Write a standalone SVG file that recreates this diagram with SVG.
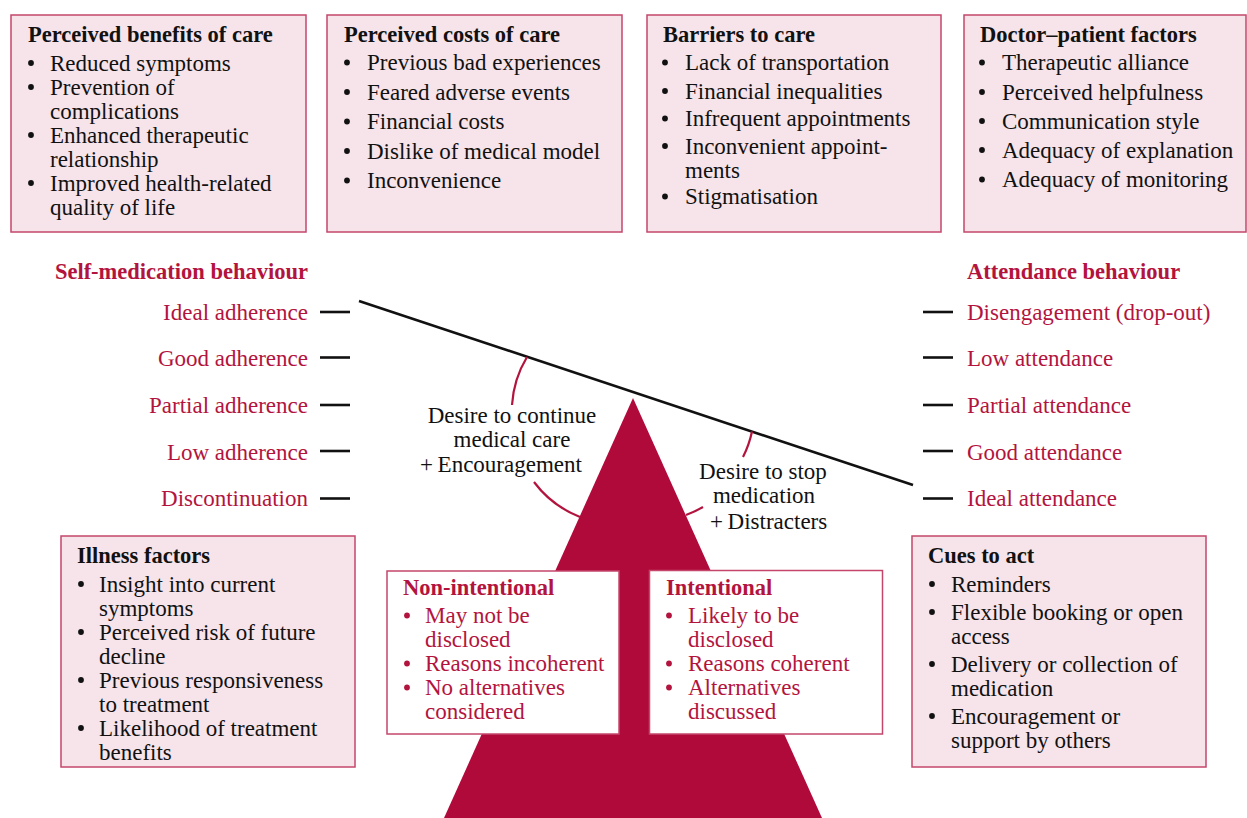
<svg xmlns="http://www.w3.org/2000/svg" width="1247" height="818" viewBox="0 0 1247 818">
<style>
.box{fill:#f6e4ea;stroke:#c4476b;stroke-width:1.5}
.wbox{fill:#ffffff;stroke:#c4476b;stroke-width:1.5}
.t{font-family:"Liberation Serif","Times New Roman",serif;font-size:23px;fill:#111}
.h{font-family:"Liberation Serif","Times New Roman",serif;font-size:22.5px;font-weight:bold;fill:#111}
.r{fill:#b3143e}
.b{fill:#111}
.rb{fill:#b3143e}
.tick{stroke:#111;stroke-width:2.6}
.arc{fill:none;stroke:#b3143e;stroke-width:2.2}
</style>
<rect width="1247" height="818" fill="#ffffff"/>
<g id="fulcrum">
<polygon points="633,398 444,818 822,818" fill="#b00a3a"/>
</g>
<g id="connectors">
<line x1="359" y1="301" x2="913" y2="485" stroke="#111" stroke-width="2.6"/>
<line class="tick" x1="320" y1="312" x2="350" y2="312"/>
<line class="tick" x1="320" y1="357.5" x2="350" y2="357.5"/>
<line class="tick" x1="320" y1="405" x2="350" y2="405"/>
<line class="tick" x1="320" y1="451" x2="350" y2="451"/>
<line class="tick" x1="320" y1="498.5" x2="350" y2="498.5"/>
<line class="tick" x1="923" y1="312" x2="953" y2="312"/>
<line class="tick" x1="923" y1="357.5" x2="953" y2="357.5"/>
<line class="tick" x1="923" y1="405" x2="953" y2="405"/>
<line class="tick" x1="923" y1="451" x2="953" y2="451"/>
<line class="tick" x1="923" y1="498.5" x2="953" y2="498.5"/>
<path class="arc" d="M527,357 A105.5,105.5 0 0 0 512,405"/>
<path class="arc" d="M534,482 A105.5,105.5 0 0 0 580,517"/>
<path class="arc" d="M752,431.5 A103,103 0 0 1 743,457"/>
<path class="arc" d="M703,507 A103,103 0 0 1 686,515"/>
</g>
<g id="benefits">
<rect class="box" x="11" y="15" width="295" height="217"/>
<text class="h" x="28" y="42">Perceived benefits of care</text>
<circle class="b" cx="31" cy="63" r="2.9"/><text class="t" x="50" y="70.5">Reduced symptoms</text>
<circle class="b" cx="31" cy="87" r="2.9"/><text class="t" x="50" y="94.5">Prevention of</text>
<text class="t" x="50" y="118.5">complications</text>
<circle class="b" cx="31" cy="135" r="2.9"/><text class="t" x="50" y="142.5">Enhanced therapeutic</text>
<text class="t" x="50" y="166.5">relationship</text>
<circle class="b" cx="31" cy="183" r="2.9"/><text class="t" x="50" y="190.5">Improved health-related</text>
<text class="t" x="50" y="214.5">quality of life</text>
</g>
<g id="costs">
<rect class="box" x="327" y="15" width="295" height="217"/>
<text class="h" x="344" y="42">Perceived costs of care</text>
<circle class="b" cx="347" cy="62.5" r="2.9"/><text class="t" x="367" y="70">Previous bad experiences</text>
<circle class="b" cx="347" cy="92" r="2.9"/><text class="t" x="367" y="99.5">Feared adverse events</text>
<circle class="b" cx="347" cy="121.5" r="2.9"/><text class="t" x="367" y="129">Financial costs</text>
<circle class="b" cx="347" cy="151" r="2.9"/><text class="t" x="367" y="158.5">Dislike of medical model</text>
<circle class="b" cx="347" cy="180.5" r="2.9"/><text class="t" x="367" y="188">Inconvenience</text>
</g>
<g id="barriers">
<rect class="box" x="647" y="15" width="294" height="217"/>
<text class="h" x="663" y="42">Barriers to care</text>
<circle class="b" cx="665" cy="62.5" r="2.9"/><text class="t" x="685" y="70">Lack of transportation</text>
<circle class="b" cx="665" cy="91" r="2.9"/><text class="t" x="685" y="98.5">Financial inequalities</text>
<circle class="b" cx="665" cy="118.5" r="2.9"/><text class="t" x="685" y="126">Infrequent appointments</text>
<circle class="b" cx="665" cy="146" r="2.9"/><text class="t" x="685" y="153.5">Inconvenient appoint-</text>
<text class="t" x="685" y="177.5">ments</text>
<circle class="b" cx="665" cy="196.5" r="2.9"/><text class="t" x="685" y="204">Stigmatisation</text>
</g>
<g id="doctor-patient">
<rect class="box" x="964" y="15" width="282" height="217"/>
<text class="h" x="980" y="42">Doctor–patient factors</text>
<circle class="b" cx="982" cy="62.5" r="2.9"/><text class="t" x="1002" y="70">Therapeutic alliance</text>
<circle class="b" cx="982" cy="92" r="2.9"/><text class="t" x="1002" y="99.5">Perceived helpfulness</text>
<circle class="b" cx="982" cy="121" r="2.9"/><text class="t" x="1002" y="128.5">Communication style</text>
<circle class="b" cx="982" cy="150" r="2.9"/><text class="t" x="1002" y="157.5">Adequacy of explanation</text>
<circle class="b" cx="982" cy="179.5" r="2.9"/><text class="t" x="1002" y="187">Adequacy of monitoring</text>
</g>
<g id="self-medication">
<text class="h r" x="308" y="279" text-anchor="end">Self-medication behaviour</text>
<text class="t r" x="308" y="320" text-anchor="end">Ideal adherence</text>
<text class="t r" x="308" y="366" text-anchor="end">Good adherence</text>
<text class="t r" x="308" y="413" text-anchor="end">Partial adherence</text>
<text class="t r" x="308" y="459.5" text-anchor="end">Low adherence</text>
<text class="t r" x="308" y="506" text-anchor="end">Discontinuation</text>
</g>
<g id="attendance">
<text class="h r" x="967" y="279">Attendance behaviour</text>
<text class="t r" x="967" y="320">Disengagement (drop-out)</text>
<text class="t r" x="967" y="366">Low attendance</text>
<text class="t r" x="967" y="413">Partial attendance</text>
<text class="t r" x="967" y="459.5">Good attendance</text>
<text class="t r" x="967" y="506">Ideal attendance</text>
</g>
<g id="desire-continue">
<text class="t" x="512" y="422.5" text-anchor="middle">Desire to continue</text>
<text class="t" x="512" y="446.5" text-anchor="middle">medical care</text>
<text class="t" x="420" y="471.5">+&#8201;Encouragement</text>
</g>
<g id="desire-stop">
<text class="t" x="763" y="479" text-anchor="middle">Desire to stop</text>
<text class="t" x="764" y="503" text-anchor="middle">medication</text>
<text class="t" x="710" y="529">+&#8201;Distracters</text>
</g>
<g id="illness">
<rect class="box" x="61" y="536" width="294" height="231"/>
<text class="h" x="77" y="563">Illness factors</text>
<circle class="b" cx="81" cy="584" r="2.9"/><text class="t" x="99" y="591.5">Insight into current</text>
<text class="t" x="99" y="615.5">symptoms</text>
<circle class="b" cx="81" cy="632" r="2.9"/><text class="t" x="99" y="639.5">Perceived risk of future</text>
<text class="t" x="99" y="663.5">decline</text>
<circle class="b" cx="81" cy="680" r="2.9"/><text class="t" x="99" y="687.5">Previous responsiveness</text>
<text class="t" x="99" y="711.5">to treatment</text>
<circle class="b" cx="81" cy="728" r="2.9"/><text class="t" x="99" y="735.5">Likelihood of treatment</text>
<text class="t" x="99" y="759.5">benefits</text>
</g>
<g id="non-intentional">
<rect class="wbox" x="387" y="571" width="232" height="163"/>
<text class="h r" x="403" y="595">Non-intentional</text>
<circle class="rb" cx="407" cy="615.5" r="2.9"/><text class="t r" x="425" y="623">May not be</text>
<text class="t r" x="425" y="647">disclosed</text>
<circle class="rb" cx="407" cy="663.5" r="2.9"/><text class="t r" x="425" y="671">Reasons incoherent</text>
<circle class="rb" cx="407" cy="687.5" r="2.9"/><text class="t r" x="425" y="695">No alternatives</text>
<text class="t r" x="425" y="719">considered</text>
</g>
<g id="intentional">
<rect class="wbox" x="649.5" y="570.5" width="233" height="163.5"/>
<text class="h r" x="666" y="595">Intentional</text>
<circle class="rb" cx="669" cy="615.5" r="2.9"/><text class="t r" x="688" y="623">Likely to be</text>
<text class="t r" x="688" y="647">disclosed</text>
<circle class="rb" cx="669" cy="663.5" r="2.9"/><text class="t r" x="688" y="671">Reasons coherent</text>
<circle class="rb" cx="669" cy="687.5" r="2.9"/><text class="t r" x="688" y="695">Alternatives</text>
<text class="t r" x="688" y="719">discussed</text>
</g>
<g id="cues">
<rect class="box" x="912" y="536" width="294" height="231"/>
<text class="h" x="928" y="563">Cues to act</text>
<circle class="b" cx="932" cy="584" r="2.9"/><text class="t" x="951" y="591.5">Reminders</text>
<circle class="b" cx="932" cy="612" r="2.9"/><text class="t" x="951" y="619.5">Flexible booking or open</text>
<text class="t" x="951" y="643.5">access</text>
<circle class="b" cx="932" cy="664" r="2.9"/><text class="t" x="951" y="671.5">Delivery or collection of</text>
<text class="t" x="951" y="695.5">medication</text>
<circle class="b" cx="932" cy="716" r="2.9"/><text class="t" x="951" y="723.5">Encouragement or</text>
<text class="t" x="951" y="747.5">support by others</text>
</g>
</svg>
